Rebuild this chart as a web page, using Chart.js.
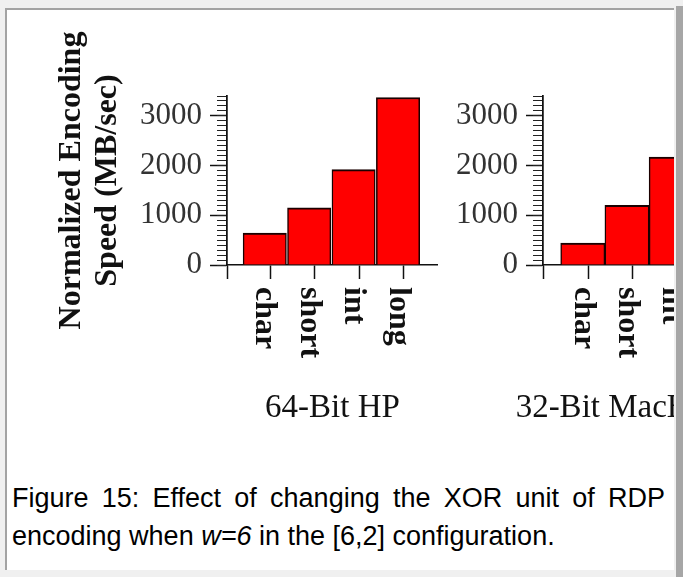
<!DOCTYPE html>
<html>
<head>
<meta charset="utf-8">
<script src="https://cdn.jsdelivr.net/npm/chart.js@4.4.1/dist/chart.umd.min.js"></script>
<style>
  body { margin: 0; background: #f0f0f0; width: 683px; height: 577px; overflow: hidden; position: relative; }
  #box { position: absolute; left: 5px; top: 8px; width: 667px; height: 560px; background: #fff;
         border-left: 2px solid #a3a3a3; border-top: 2px solid #a3a3a3; overflow: hidden; }
  #rbar { position: absolute; left: 676px; top: 6px; width: 7px; height: 571px; background: #a6a6a6; }
  canvas { position: absolute; }
  .cap { position: absolute; left: 5px; width: 653px; font-family: "Liberation Sans", Arial, sans-serif;
         font-size: 27px; line-height: 38px; color: #000; white-space: nowrap; }
  #cap1 { top: 469px; text-align: justify; text-align-last: justify; white-space: normal; }
  #cap2 { top: 507px; }
</style>
</head>
<body>
<div id="box">
  <canvas id="hp" width="408" height="420" style="left:23px; top:10px"></canvas>
  <canvas id="mac" width="271" height="420" style="left:433px; top:10px"></canvas>
  <div class="cap" id="cap1">Figure 15: Effect of changing the XOR unit of RDP</div>
  <div class="cap" id="cap2">encoding when <i>w=6</i> in the [6,2] configuration.</div>
</div>
<div id="rbar"></div>
<script>
// data (MB/sec)
const hpTypes = ['char', 'short', 'int', 'long'];
const hpSpeed = [640, 1150, 1920, 3370];
const macTypes = ['char', 'short', 'int'];
const macSpeed = [440, 1200, 2170];
const yMajor = [0, 1000, 2000, 3000];
const yMax = 3400;
const minorStep = 100;
const yTitle = ['Normalized Encoding', 'Speed (MB/sec)'];

const serif = '"Liberation Serif", "Times New Roman", serif';

// rotated (top-to-bottom) category labels and the panel name under the axis
const catLabels = {
  id: 'catLabels',
  afterDraw(chart, args, opts) {
    const x = chart.scales.x, ctx = chart.ctx;
    ctx.save();
    ctx.fillStyle = '#111';
    ctx.font = 'bold 32px ' + serif;
    ctx.textAlign = 'left';
    ctx.textBaseline = 'middle';
    opts.labels.forEach((lab, i) => {
      ctx.save();
      ctx.translate(x.getPixelForValue(i), x.top + 22);
      ctx.rotate(Math.PI / 2);
      ctx.fillText(lab, 0, 0);
      ctx.restore();
    });
    // panel name, not squeezed into the axis width
    ctx.font = '33px ' + serif;
    ctx.textAlign = 'center';
    ctx.fillText(opts.name, (x.left + x.right) / 2, x.bottom - 32);
    ctx.restore();
  }
};

function makeChart(id, cats, vals, cfg) {
  const data = cats.map((c, i) => ({ x: i, y: vals[i] }));
  return new Chart(document.getElementById(id), {
    type: 'bar',
    data: {
      datasets: [{
        data: data,
        backgroundColor: '#ff0000',
        borderColor: '#1a0000',
        borderWidth: { top: 2, left: 1.5, right: 1.5, bottom: 0 },
        barPercentage: 1,
        categoryPercentage: 1
      }]
    },
    plugins: [catLabels],
    options: {
      responsive: false,
      animation: false,
      layout: { padding: { top: 76, left: 0, right: 0, bottom: 0 } },
      plugins: {
        legend: { display: false },
        tooltip: { enabled: false },
        catLabels: { labels: cats, name: cfg.name }
      },
      scales: {
        x: {
          type: 'linear',
          min: cfg.xMin,
          max: cfg.xMax,
          offset: false,
          afterBuildTicks: s => {
            s.ticks = [cfg.xMin].concat(cats.map((c, i) => i + 0.125)).map(v => ({ value: v }));
          },
          afterFit: s => { s.height = 175; },
          ticks: { display: false },
          grid: { drawOnChartArea: false, offset: false, tickLength: 14, tickWidth: 1.5, tickColor: '#111' },
          border: { color: '#111', width: 1.5 }
        },
        y: {
          position: 'left',
          weight: 1,
          min: 0,
          max: yMax,
          afterBuildTicks: s => { s.ticks = yMajor.map(v => ({ value: v })); },
          afterFit: s => { s.width = cfg.yWidth; },
          ticks: { color: '#333', padding: 8, font: { family: serif, size: 31 }, callback: v => String(v) },
          grid: { drawOnChartArea: false, tickLength: 17, tickWidth: 1.5, tickColor: '#111' },
          border: { color: '#111', width: 1.5 },
          title: {
            display: cfg.showTitle,
            text: yTitle,
            color: '#111',
            font: { family: serif, size: 32, weight: 'bold', lineHeight: 1.12 },
            padding: { top: 24, bottom: 0 }
          }
        },
        y2: {
          position: 'left',
          weight: 0,
          min: 0,
          max: yMax,
          afterBuildTicks: s => {
            const t = [];
            for (let v = 0; v <= yMax; v += minorStep) t.push({ value: v });
            s.ticks = t;
          },
          afterFit: s => { s.width = 0; },
          ticks: { display: false },
          grid: { drawOnChartArea: false, tickLength: 10, tickWidth: 1, tickColor: '#222' },
          border: { color: '#111', width: 1.5 }
        }
      }
    }
  });
}

makeChart('hp', hpTypes, hpSpeed, { name: '64-Bit HP', xMin: -0.85, xMax: 3.9, yWidth: 197, showTitle: true });
makeChart('mac', macTypes, macSpeed, { name: '32-Bit MacBook', xMin: -0.9, xMax: 2.9, yWidth: 103, showTitle: false });
</script>
</body>
</html>
